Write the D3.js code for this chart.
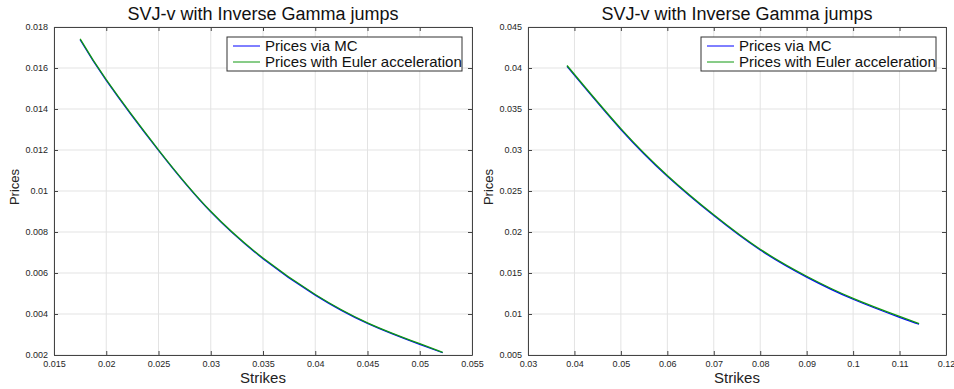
<!DOCTYPE html>
<html>
<head>
<meta charset="utf-8">
<script src="https://cdn.jsdelivr.net/npm/d3@7"></script>
<style>
  body { margin: 0; background: #fff; }
  svg { display: block; font-family: "Liberation Sans", Arial, sans-serif; }
</style>
</head>
<body>
<svg width="954" height="389"></svg>
<script>
// Values.
const title = "SVJ-v with Inverse Gamma jumps";
const seriesNames = ["Prices via MC", "Prices with Euler acceleration"];

// left panel
const strikesA = [0.0175, 0.02, 0.025, 0.03, 0.035, 0.04, 0.045, 0.05, 0.0522];
const mcA = [0.01738, 0.0154, 0.01198, 0.00898, 0.00670, 0.00492, 0.00354, 0.00252, 0.00211];
const eulerA = [0.01742, 0.01543, 0.01201, 0.00901, 0.00673, 0.00495, 0.00357, 0.00255, 0.00213];
const xTicksA = [0.015, 0.02, 0.025, 0.03, 0.035, 0.04, 0.045, 0.05, 0.055];
const yTicksA = [0.002, 0.004, 0.006, 0.008, 0.01, 0.012, 0.014, 0.016, 0.018];

// right panel
const strikesB = [0.0384, 0.05, 0.06, 0.07, 0.08, 0.09, 0.1, 0.11, 0.1142];
const mcB = [0.0402, 0.0325, 0.0268, 0.0220, 0.0178, 0.0145, 0.0118, 0.0096, 0.00875];
const eulerB = [0.0403, 0.0326, 0.0269, 0.0221, 0.0179, 0.0146, 0.0119, 0.0097, 0.00882];
const xTicksB = [0.03, 0.04, 0.05, 0.06, 0.07, 0.08, 0.09, 0.1, 0.11, 0.12];
const yTicksB = [0.005, 0.01, 0.015, 0.02, 0.025, 0.03, 0.035, 0.04, 0.045];

const colors = ["#0000ff", "#119911"];
const svg = d3.select("svg");

function drawPanel(left, right, xs, ys, xTicks, yTicks) {
    const top = 27, bottom = 355;
    const x = d3.scaleLinear().domain(d3.extent(xTicks)).range([left, right]);
    const y = d3.scaleLinear().domain(d3.extent(yTicks)).range([bottom, top]);
    const g = svg.append("g");

    // grid
    g.selectAll(".gx").data(xTicks).join("line")
        .attr("x1", d => x(d)).attr("x2", d => x(d))
        .attr("y1", top).attr("y2", bottom)
        .attr("stroke", "#e3e3e3").attr("stroke-width", 1);
    g.selectAll(".gy").data(yTicks).join("line")
        .attr("y1", d => y(d)).attr("y2", d => y(d))
        .attr("x1", left).attr("x2", right)
        .attr("stroke", "#e3e3e3").attr("stroke-width", 1);

    // axes, ticks pointing inwards on all four sides
    const fmt = d => String(+d.toFixed(4));
    g.append("g").attr("transform", `translate(0,${bottom})`)
        .call(d3.axisBottom(x).tickValues(xTicks).tickFormat(fmt).tickSizeInner(-4).tickSizeOuter(0).tickPadding(6));
    g.append("g").attr("transform", `translate(${left},0)`)
        .call(d3.axisLeft(y).tickValues(yTicks).tickFormat(fmt).tickSizeInner(-4).tickSizeOuter(0).tickPadding(6));
    g.append("g").attr("transform", `translate(0,${top})`)
        .call(d3.axisTop(x).tickValues(xTicks).tickFormat("").tickSizeInner(-4).tickSizeOuter(0));
    g.append("g").attr("transform", `translate(${right},0)`)
        .call(d3.axisRight(y).tickValues(yTicks).tickFormat("").tickSizeInner(-4).tickSizeOuter(0));
    g.selectAll(".domain").attr("stroke", "#444");
    g.selectAll(".tick line").attr("stroke", "#444");
    g.selectAll(".tick text").attr("fill", "#262626")
        .style("font-size", "9px").style("font-family", "Liberation Sans, Arial, sans-serif");

    // series
    const line = d3.line().x(d => x(d[0])).y(d => y(d[1])).curve(d3.curveNatural);
    ys.forEach((vals, i) => {
        g.append("path")
            .datum(xs.map((s, j) => [s, vals[j]]))
            .attr("d", line)
            .attr("fill", "none")
            .attr("stroke", colors[i])
            .attr("stroke-width", 1.3);
    });

    // title and labels
    const cx = (left + right) / 2;
    g.append("text").attr("x", cx).attr("y", 20).attr("text-anchor", "middle")
        .style("font-size", "18px").attr("fill", "#111").text(title);
    g.append("text").attr("x", cx).attr("y", 383).attr("text-anchor", "middle")
        .style("font-size", "15px").attr("fill", "#222").text("Strikes");
    g.append("text").attr("transform", `translate(${left - 35},${(top + bottom) / 2 - 4}) rotate(-90)`)
        .attr("text-anchor", "middle")
        .style("font-size", "13px").attr("fill", "#222").text("Prices");

    // legend
    const lg = g.append("g").attr("transform", `translate(${right - 245},37)`);
    lg.append("rect").attr("width", 235).attr("height", 34)
        .attr("fill", "#fff").attr("stroke", "#333").attr("stroke-width", 1);
    seriesNames.forEach((name, i) => {
        const ly = 9 + i * 16;
        lg.append("line").attr("x1", 6).attr("x2", 33).attr("y1", ly).attr("y2", ly)
            .attr("stroke", colors[i]).attr("stroke-width", 1);
        lg.append("text").attr("x", 38).attr("y", ly + 5)
            .style("font-size", "15px").attr("fill", "#111").text(name);
    });
}

drawPanel(54, 472, strikesA, [mcA, eulerA], xTicksA, yTicksA);
drawPanel(528, 946, strikesB, [mcB, eulerB], xTicksB, yTicksB);
</script>
</body>
</html>
